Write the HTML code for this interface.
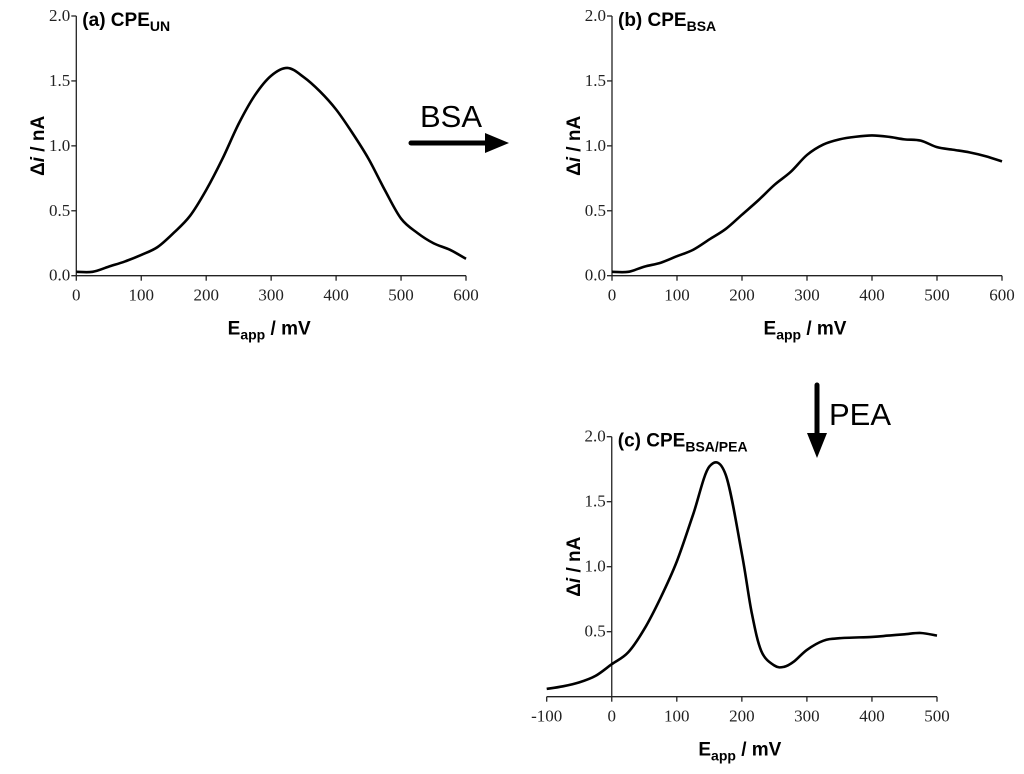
<!DOCTYPE html>
<html><head><meta charset="utf-8"><style>
body{margin:0;background:#fff}
svg{display:block}
.tk{font-family:"Liberation Serif",serif;font-size:17px;fill:#222}
.ti{font-family:"Liberation Sans",sans-serif;font-weight:bold;font-size:19px;fill:#000}
</style></head><body>
<svg id="fig" width="1024" height="774" viewBox="0 0 1024 774">
<g id="arrows">
<text x="420" y="127" font-family="Liberation Sans,sans-serif" font-size="31">BSA</text>
<line x1="411" y1="143" x2="487" y2="143" stroke="#000" stroke-width="5" stroke-linecap="round"/>
<polygon points="485,133 509,143 485,153" fill="#000"/>
<text x="829" y="425" font-family="Liberation Sans,sans-serif" font-size="31">PEA</text>
<line x1="817" y1="385" x2="817" y2="436" stroke="#000" stroke-width="5" stroke-linecap="round"/>
<polygon points="807,433 827,433 817,458" fill="#000"/>
</g>
</svg>
<script>
const aX=[0,25,50,75,100,125,150,175,200,225,250,275,300,325,350,375,400,425,450,475,500,525,550,575,600];
const aY=[.03,.03,.07,.11,.16,.22,.33,.46,.66,.9,1.17,1.39,1.54,1.6,1.53,1.42,1.28,1.1,.9,.66,.44,.33,.25,.2,.13];
const bX=[0,25,50,75,100,125,150,175,200,225,250,275,300,325,350,375,400,425,450,475,500,525,550,575,600];
const bY=[.03,.03,.07,.1,.15,.2,.28,.36,.47,.58,.7,.8,.93,1.01,1.05,1.07,1.08,1.07,1.05,1.04,.99,.97,.95,.92,.88];
const cX=[-100,-75,-50,-25,0,25,50,75,100,125,150,175,200,215,230,250,265,280,300,325,350,400,425,450,475,500];
const cY=[.06,.08,.11,.16,.25,.34,.52,.76,1.04,1.4,1.77,1.71,1.1,.65,.35,.24,.23,.27,.36,.43,.45,.46,.47,.48,.49,.47];
const xTicksAB=[0,100,200,300,400,500,600];
const yTicksAB=[0,0.5,1,1.5,2];
const xTicksC=[-100,0,100,200,300,400,500];
const yTicksC=[0.5,1,1.5,2];
const NS="http://www.w3.org/2000/svg";
const svg=document.getElementById('fig');
function mk(tag,attrs,parent){const e=document.createElementNS(NS,tag);for(const k in attrs)e.setAttribute(k,attrs[k]);(parent||svg).appendChild(e);return e;}
function panel(key,cfg){
  const g=mk('g',{});
  
  
  const sx=v=>cfg.x0+(v-cfg.xmin)/(cfg.xmax-cfg.xmin)*(cfg.x1-cfg.x0);
  const sy=v=>cfg.ybot-(v/2)*(cfg.ybot-cfg.ytop);
  const yax=mk('line',{x1:sx(0),x2:sx(0),y1:cfg.ytop,y2:cfg.ybot,stroke:'#222','stroke-width':1.3},g);
  
  
  const xax=mk('line',{x1:cfg.x0,x2:cfg.x1,y1:cfg.ybot,y2:cfg.ybot,stroke:'#222','stroke-width':1.3},g);
  
  
  cfg.xt.forEach(v=>{
    mk('line',{x1:sx(v),x2:sx(v),y1:cfg.ybot,y2:cfg.ybot+5,stroke:'#222','stroke-width':1.3},g);
    const t=mk('text',{x:sx(v),y:cfg.ybot+25,'text-anchor':'middle',class:'tk'},g);
    t.textContent=v;
    
    
  });
  cfg.yt.forEach(v=>{
    mk('line',{x1:sx(0)-5,x2:sx(0),y1:sy(v),y2:sy(v),stroke:'#222','stroke-width':1.3},g);
    const t=mk('text',{x:sx(0)-6,y:sy(v)+5,'text-anchor':'end',class:'tk'},g);
    t.textContent=v.toFixed(1);
    
    
  });
  const P=cfg.X.map((x,i)=>[sx(x),sy(cfg.Y[i])]);
  let d='M'+P[0][0]+','+P[0][1];
  for(let i=0;i<P.length-1;i++){
    const p0=P[Math.max(0,i-1)],p1=P[i],p2=P[i+1],p3=P[Math.min(P.length-1,i+2)];
    const c1=[p1[0]+(p2[0]-p0[0])/6,p1[1]+(p2[1]-p0[1])/6];
    const c2=[p2[0]-(p3[0]-p1[0])/6,p2[1]-(p3[1]-p1[1])/6];
    d+=`C${c1[0]},${c1[1]} ${c2[0]},${c2[1]} ${p2[0]},${p2[1]}`;
  }
  const path=mk('path',{d:d,fill:'none',stroke:'#000','stroke-width':2.6,'stroke-linejoin':'round'},g);
  
  
  const tt=mk('text',{x:sx(0)+6,y:cfg.ytop+10,class:'ti','font-size':'18'},g);
  tt.innerHTML=cfg.title+'<tspan dy="5" font-size="14">'+cfg.sub+'</tspan>';
  
  
  const xt=mk('text',{x:(cfg.x0+cfg.x1)/2-2,y:cfg.ybot+59,'text-anchor':'middle',class:'ti'},g);
  xt.innerHTML='E<tspan dy="5" font-size="14">app</tspan><tspan dy="-5"> / mV</tspan>';
  
  
  const cy=(cfg.ytop+cfg.ybot)/2;
  const yt=mk('text',{x:cfg.ylx,y:cy,'text-anchor':'middle',class:'ti',transform:`rotate(-90 ${cfg.ylx} ${cy})`},g);
  yt.innerHTML='Δ<tspan font-style="italic">i</tspan> / nA';
  
  
}
panel('a',{x0:76.3,x1:466,xmin:0,xmax:600,ytop:16,ybot:275.7,X:aX,Y:aY,xt:xTicksAB,yt:yTicksAB,title:'(a) CPE',sub:'UN',ylx:44});
panel('b',{x0:612,x1:1002,xmin:0,xmax:600,ytop:16,ybot:275.7,X:bX,Y:bY,xt:xTicksAB,yt:yTicksAB,title:'(b) CPE',sub:'BSA',ylx:580});
panel('c',{x0:546.7,x1:937,xmin:-100,xmax:500,ytop:436.7,ybot:696.7,X:cX,Y:cY,xt:xTicksC,yt:yTicksC,title:'(c) CPE',sub:'BSA/PEA',ylx:580});
</script>
</body></html>
